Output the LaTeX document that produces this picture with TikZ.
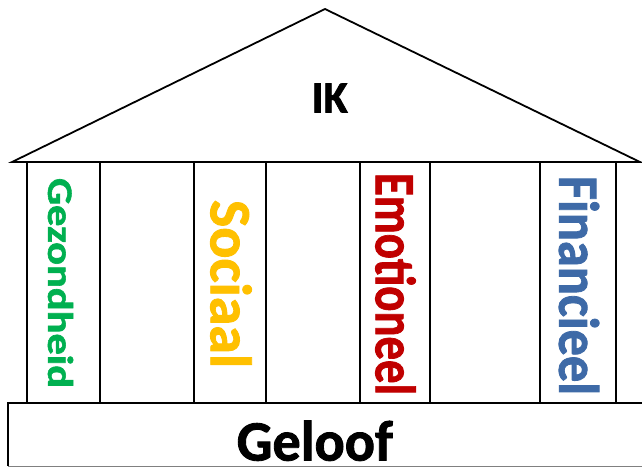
\documentclass[tikz,border=0pt]{standalone}
\usepackage{fontspec}
\setmainfont{Carlito}
\usepackage{graphicx}
\definecolor{cgreen}{RGB}{0,176,80}
\definecolor{cgold}{RGB}{255,192,0}
\definecolor{cred}{RGB}{192,0,0}
\definecolor{cblue}{RGB}{62,106,167}
\newcommand{\heavytxt}[1]{{\bfseries\addfontfeature{FakeBold=1.5}#1}}
\tikzset{
  outline/.style={draw=black, line width=1.8pt},
  pillar/.style={outline, fill=white},
  vlabel/.style={rotate=-90, inner sep=0pt, anchor=center},
  hlabel/.style={inner sep=0pt, anchor=base west}
}
\begin{document}
\begin{tikzpicture}[x=1pt, y=-1pt, line join=miter]
\useasboundingbox (0,0) rectangle (642,467);
\fill[white] (0,0) rectangle (642,467);
% base
\draw[outline] (660,403) -- (8,403) -- (8,466);
\draw[gray, line width=1pt] (8,466) -- (660,466);
\node[hlabel] (geloof) at (236.5,460.5) {\resizebox{156pt}{40pt}{\heavytxt{Geloof}}};
% pillars
\draw[pillar] (27,162) rectangle (100,403);
\draw[pillar] (194,162) rectangle (266,403);
\draw[pillar] (360,162) rectangle (430,403);
\draw[pillar] (540,162) rectangle (616,403);
% roof
\draw[outline] (12,162) -- (325,9) -- (640,162) -- cycle;
\node[hlabel] (ik) at (311.5,112.5) {\resizebox{36pt}{29pt}{\heavytxt{IK}}};
% pillar labels
\node[vlabel, text=cgreen] (gez) at (60.5,283) {\resizebox{210pt}{25pt}{\heavytxt{Gezondheid}}};
\node[vlabel, text=cgold] (soc) at (231,284) {\resizebox{168pt}{41pt}{\heavytxt{Sociaal}}};
\node[vlabel, text=cred] (emo) at (395.5,284) {\resizebox{222pt}{40pt}{\heavytxt{Emotioneel}}};
\node[vlabel, text=cblue] (fin) at (579,285.5) {\resizebox{219pt}{40pt}{\heavytxt{Financieel}}};
\end{tikzpicture}
\end{document}
